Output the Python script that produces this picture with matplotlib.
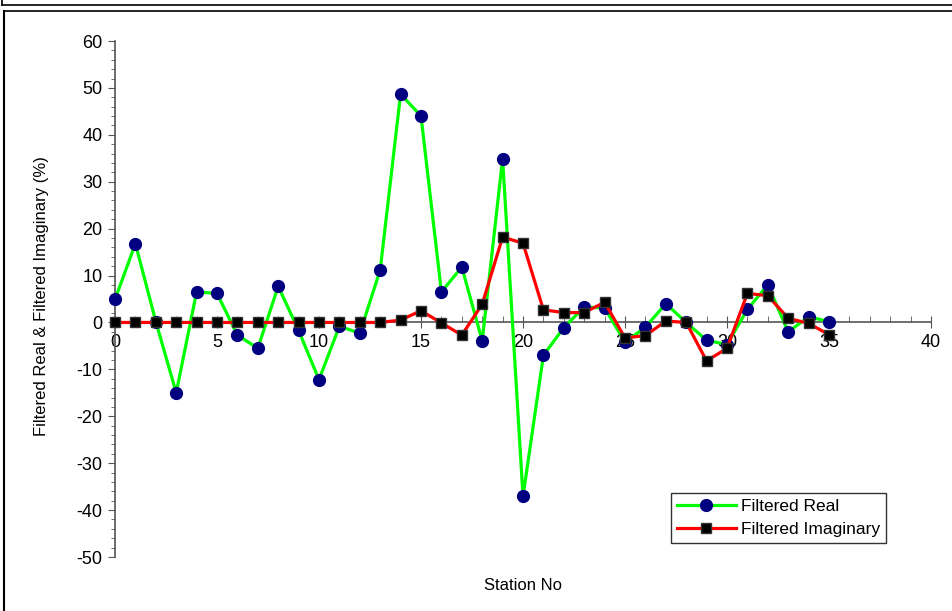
import matplotlib.pyplot as plt
from matplotlib.lines import Line2D
from matplotlib.ticker import MultipleLocator

plt.rcParams['font.family'] = ['Liberation Sans', 'DejaVu Sans']
plt.rcParams['axes.unicode_minus'] = False

stations = list(range(36))
filtered_real = [4.9, 16.8, 0.2, -15.0, 6.5, 6.2, -2.7, -5.5, 7.7, -1.7,
                 -12.2, -0.8, -2.3, 11.2, 48.7, 44.0, 6.5, 11.8, -3.9, 34.9,
                 -37.1, -7.0, -1.1, 3.3, 3.1, -4.2, -1.0, 4.0, 0.0, -3.8,
                 -4.7, 2.8, 8.0, -2.0, 1.2, 0.2]
filtered_imag = [0.0, 0.0, 0.0, 0.0, 0.0, 0.0, 0.0, 0.0, 0.0, 0.0,
                 0.0, 0.0, 0.0, 0.0, 0.5, 2.5, -0.1, -2.7, 3.9, 18.2,
                 16.9, 2.7, 2.1, 2.1, 4.3, -3.3, -2.8, 0.3, 0.0, -8.2,
                 -5.5, 6.2, 5.7, 0.9, -0.2, -2.6]

fig = plt.figure(figsize=(9.53, 6.11), dpi=100)
ax = fig.add_axes([115 / 953, 1 - 557 / 611, (931 - 115) / 953, (557 - 41) / 611])

ax.plot(stations, filtered_real, color='#00ff00', lw=2.3, marker='o',
        markersize=8.5, markerfacecolor='#000080', markeredgecolor='#000080',
        label='Filtered Real', clip_on=False, zorder=3)
ax.plot(stations, filtered_imag, color='#ff0000', lw=2.3, marker='s',
        markersize=6.5, markerfacecolor='black', markeredgecolor='#333333',
        label='Filtered Imaginary', clip_on=False, zorder=4)

ax.set_xlim(0, 40)
ax.set_ylim(-50, 60)
ax.xaxis.set_major_locator(MultipleLocator(5))
ax.xaxis.set_minor_locator(MultipleLocator(1))
ax.yaxis.set_major_locator(MultipleLocator(10))
ax.yaxis.set_minor_locator(MultipleLocator(2))

for s in ['top', 'right']:
    ax.spines[s].set_visible(False)
ax.spines['bottom'].set_position(('data', 0))
ax.spines['left'].set_position(('data', 0))
for s in ['bottom', 'left']:
    ax.spines[s].set_color('#555555')
    ax.spines[s].set_linewidth(1.2)
    ax.spines[s].set_zorder(2)

ax.tick_params(axis='x', which='major', direction='inout', length=8,
               color='#555555', labelsize=13, pad=4)
ax.tick_params(axis='x', which='minor', direction='in', length=4, color='#555555')
ax.tick_params(axis='y', which='major', direction='out', length=5,
               color='#555555', labelsize=13, pad=4)
ax.tick_params(axis='y', which='minor', direction='out', length=3, color='#555555')

fig.text(523 / 953, 1 - 586 / 611, 'Station No', ha='center', va='center', fontsize=12)
fig.text(42 / 953, 1 - 296 / 611, 'Filtered Real & Filtered Imaginary (%)',
         rotation=90, ha='center', va='center', fontsize=12)

leg = ax.legend(loc='upper left', bbox_to_anchor=(662 / 953, 1 - 484 / 611),
                bbox_transform=fig.transFigure, fontsize=12.5, frameon=True,
                fancybox=False, edgecolor='black', borderpad=0.35,
                handlelength=3.4, handletextpad=0.3, labelspacing=0.45)
leg.get_frame().set_linewidth(1.0)

# outer frames
fig.add_artist(Line2D([2 / 953, 2 / 953], [1, 1 - 5 / 611], transform=fig.transFigure, color='black', lw=1.2))
fig.add_artist(Line2D([2 / 953, 1], [1 - 5 / 611, 1 - 5 / 611], transform=fig.transFigure, color='black', lw=1.2))
fig.add_artist(Line2D([4 / 953, 1], [1 - 11 / 611, 1 - 11 / 611], transform=fig.transFigure, color='black', lw=1.2))
fig.add_artist(Line2D([4 / 953, 4 / 953], [1 - 11 / 611, 0], transform=fig.transFigure, color='black', lw=1.5))

fig.savefig('out.png', dpi=100)
